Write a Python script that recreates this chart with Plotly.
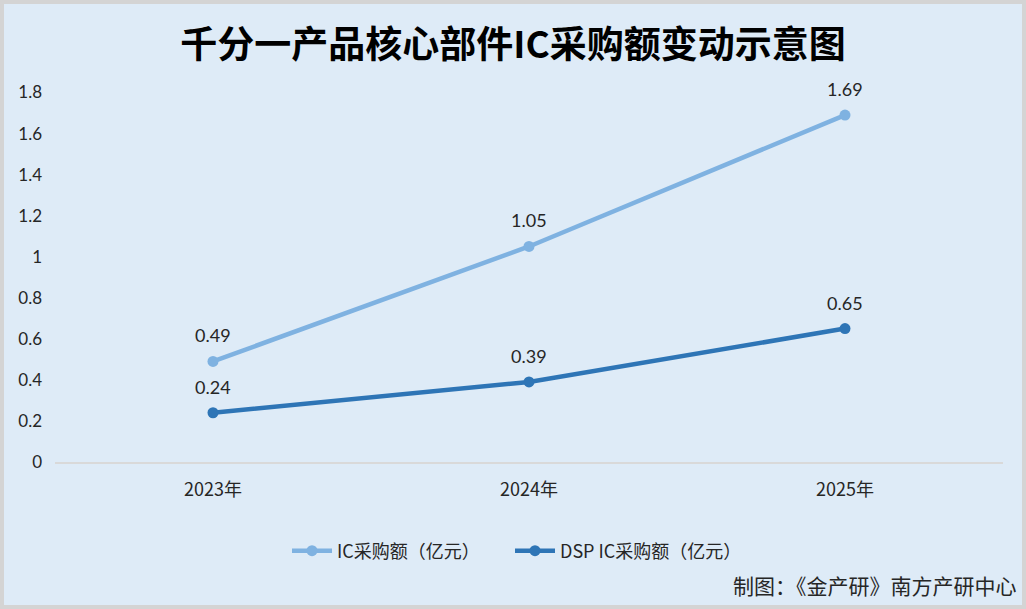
import plotly.graph_objects as go

# data
years = ['2023年', '2024年', '2025年']
ic_total = [0.49, 1.05, 1.69]
dsp_ic = [0.24, 0.39, 0.65]

W, H = 1026, 609
ml, mr, mt, mb = 55, 23, 72, 147
pw, ph = W - ml - mr, H - mt - mb

label_font = dict(family='Lato, Open Sans, sans-serif', size=18, color='#262626')
cjk = 'Noto Sans CJK SC'

fig = go.Figure()
fig.add_trace(go.Scatter(
    x=years, y=ic_total, name='IC采购额（亿元）', mode='lines+markers',
    line=dict(color='#7FB2E1', width=4.5), marker=dict(size=11, color='#7FB2E1'),
))
fig.add_trace(go.Scatter(
    x=years, y=dsp_ic, name='DSP IC采购额（亿元）', mode='lines+markers',
    line=dict(color='#2E75B6', width=4.5), marker=dict(size=11, color='#2E75B6'),
))

# data labels above the points
for series in (ic_total, dsp_ic):
    for yr, v in zip(years, series):
        fig.add_annotation(x=yr, y=v, text=f'{v:.2f}', showarrow=False,
                           yshift=26, font=label_font)

fig.update_xaxes(range=[-0.5, 2.5], showgrid=False, showline=True, linecolor='#D9D9D9', linewidth=2,
                 ticks='', tickfont=dict(family=cjk, size=18, color='#262626'),
                 ticklabelstandoff=10)
fig.update_yaxes(range=[0, 1.9], dtick=0.2, tick0=0, showgrid=False, zeroline=False,
                 tickfont=dict(family='Lato, Open Sans, sans-serif', size=17, color='#262626'),
                 ticklabelstandoff=12)

# frame around the picture
fig.add_shape(type='rect', xref='paper', yref='paper',
              x0=-ml / pw, x1=(W - ml) / pw, y0=-mb / ph, y1=(H - mb) / ph,
              line=dict(color='#D4D4D4', width=8), fillcolor='rgba(0,0,0,0)', layer='above')

fig.add_annotation(text='制图：《金产研》南方产研中心', xref='paper', yref='paper',
                   x=(1019 - ml) / pw, y=-(585 - mt - ph) / ph, xanchor='right', yanchor='middle',
                   showarrow=False, font=dict(family=cjk, size=21, color='#262626'))

fig.update_layout(
    width=W, height=H,
    margin=dict(l=ml, r=mr, t=mt, b=mb),
    paper_bgcolor='#DEEBF7', plot_bgcolor='#DEEBF7',
    title=dict(text='<b>千分一产品核心部件IC采购额变动示意图</b>', x=0.5, xref='container',
               y=1 - 45 / H, yanchor='middle',
               font=dict(family=cjk, size=37, color='#000000')),
    legend=dict(orientation='h', x=(510 - ml) / pw, xanchor='center', y=-(551 - mt - ph) / ph,
                yanchor='middle', font=dict(family=cjk, size=18, color='#262626'),
                bgcolor='rgba(0,0,0,0)', itemwidth=40, entrywidth=168),
    showlegend=True,
)

fig.write_html('out.html', config={'displayModeBar': False},
               post_script="document.body.style.margin='0';")
